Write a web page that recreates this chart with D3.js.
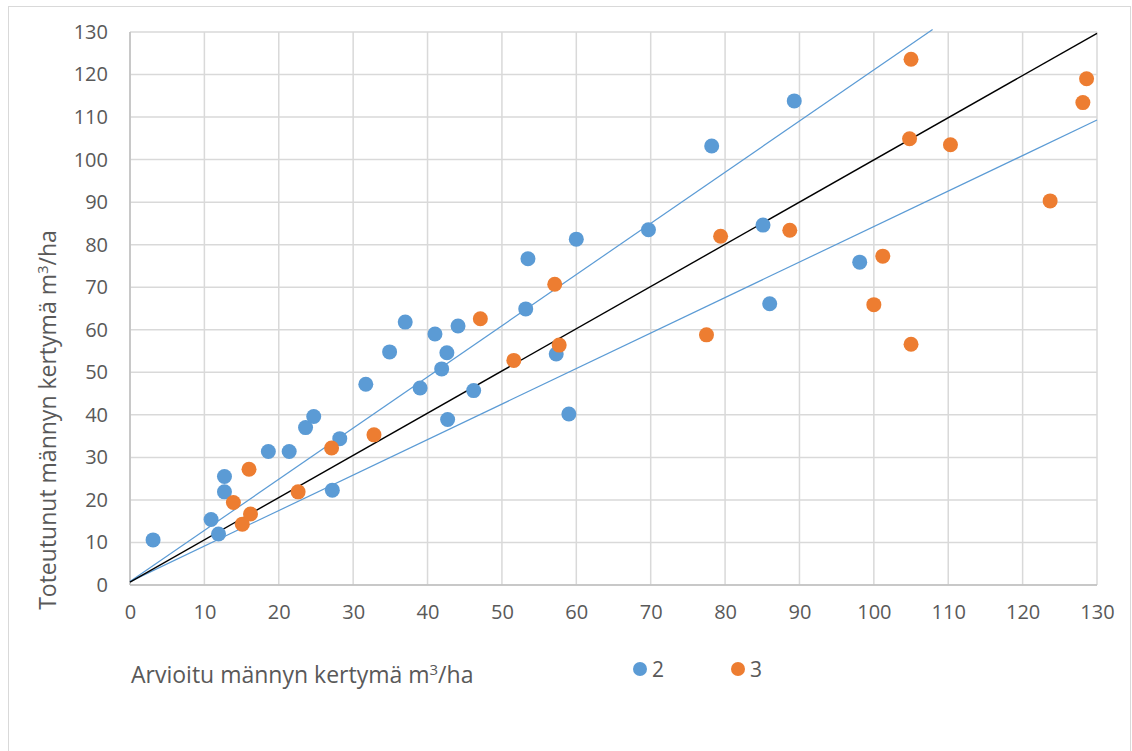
<!DOCTYPE html>
<html>
<head>
<meta charset="utf-8">
<script src="https://cdn.jsdelivr.net/npm/d3@7"></script>
<style>
  body { margin: 0; background: #fff; }
  svg { display: block; }
  text { font-family: "Open Sans", "Noto Sans", sans-serif; fill: #595959; }
</style>
</head>
<body>
<div id="chart"></div>
<script>
// values
var ticks = [0, 10, 20, 30, 40, 50, 60, 70, 80, 90, 100, 110, 120, 130];

// series "2"
var blueX = [3.1, 10.9, 11.9, 12.7, 12.7, 18.6, 21.4, 23.6, 24.7, 27.2, 28.2, 31.7, 34.9, 37.0, 39.0,
             41.0, 41.9, 42.6, 42.7, 44.1, 46.2, 53.2, 53.5, 57.3, 59.0, 60.0, 69.7, 78.2, 85.1, 86.0,
             89.3, 98.1];
var blueY = [10.6, 15.4, 12.0, 21.9, 25.5, 31.4, 31.4, 37.0, 39.6, 22.3, 34.4, 47.2, 54.8, 61.8, 46.3,
             59.0, 50.8, 54.6, 38.9, 60.9, 45.7, 64.9, 76.7, 54.3, 40.2, 81.3, 83.5, 103.2, 84.6, 66.1,
             113.8, 75.9];

// series "3"
var orangeX = [13.9, 15.1, 16.0, 16.2, 22.6, 27.1, 32.8, 47.1, 51.6, 57.1, 57.7, 77.5, 79.4, 88.7,
               100.0, 101.2, 104.8, 105.0, 105.0, 110.3, 123.7, 128.1, 128.6];
var orangeY = [19.4, 14.3, 27.2, 16.7, 21.9, 32.2, 35.3, 62.6, 52.8, 70.7, 56.4, 58.8, 82.0, 83.4,
               65.9, 77.3, 104.9, 123.6, 56.6, 103.5, 90.3, 113.4, 119.0];

// guide lines (end points)
var upperLineX = [0, 107.9], upperLineY = [0.8, 130.6];
var middleLineX = [0, 130], middleLineY = [0.7, 129.7];
var lowerLineX = [0, 130], lowerLineY = [0.8, 109.3];

var width = 1132, height = 751;
var plotLeft = 130, plotRight = 1097, plotTop = 32, plotBottom = 585;

var svg = d3.select("#chart").append("svg")
  .attr("width", width)
  .attr("height", height);

// chart frame
svg.append("rect")
  .attr("x", 8.5).attr("y", 6.5)
  .attr("width", 1122).attr("height", 760)
  .attr("fill", "none")
  .attr("stroke", "#d9d9d9")
  .attr("stroke-width", 1);

var x = d3.scaleLinear().domain([0, 130]).range([plotLeft, plotRight]);
var y = d3.scaleLinear().domain([0, 130]).range([plotBottom, plotTop]);

// gridlines
var grid = svg.append("g").attr("class", "grid");
grid.selectAll("line.v").data(ticks).enter().append("line")
  .attr("class", "v")
  .attr("x1", function(d) { return x(d); })
  .attr("x2", function(d) { return x(d); })
  .attr("y1", y(0)).attr("y2", y(130))
  .attr("stroke", "#d9d9d9").attr("stroke-width", 1.5);
grid.selectAll("line.h").data(ticks).enter().append("line")
  .attr("class", "h")
  .attr("y1", function(d) { return y(d); })
  .attr("y2", function(d) { return y(d); })
  .attr("x1", x(0)).attr("x2", x(130))
  .attr("stroke", "#d9d9d9").attr("stroke-width", 1.5);

// tick labels through d3 axes, lines hidden
var xAxis = svg.append("g")
  .attr("transform", "translate(0," + plotBottom + ")")
  .call(d3.axisBottom(x).tickValues(ticks).tickSize(0).tickPadding(20));
var yAxis = svg.append("g")
  .attr("transform", "translate(" + plotLeft + ",0)")
  .call(d3.axisLeft(y).tickValues(ticks).tickSize(0).tickPadding(22));
[xAxis, yAxis].forEach(function(a) {
  a.select(".domain").remove();
  a.selectAll("text")
    .attr("fill", "#595959")
    .style("font-size", "20px")
    .style("font-family", "'Open Sans', 'Noto Sans', sans-serif");
});

// axis lines
svg.append("line")
  .attr("x1", x(0)).attr("x2", x(0)).attr("y1", y(0)).attr("y2", y(130))
  .attr("stroke", "#bfbfbf").attr("stroke-width", 1.5);
svg.append("line")
  .attr("x1", x(0)).attr("x2", x(130)).attr("y1", y(0)).attr("y2", y(0))
  .attr("stroke", "#bfbfbf").attr("stroke-width", 1.5);

// guide lines
var guides = [
  { xs: upperLineX, ys: upperLineY, color: "#5b9bd5", w: 1.2 },
  { xs: lowerLineX, ys: lowerLineY, color: "#5b9bd5", w: 1.2 },
  { xs: middleLineX, ys: middleLineY, color: "#000000", w: 1.4 }
];
guides.forEach(function(g) {
  svg.append("line")
    .attr("x1", x(g.xs[0])).attr("y1", y(g.ys[0]))
    .attr("x2", x(g.xs[1])).attr("y2", y(g.ys[1]))
    .attr("stroke", g.color)
    .attr("stroke-width", g.w);
});

// points
function drawPoints(xs, ys, color) {
  svg.append("g").selectAll("circle")
    .data(xs.map(function(d, i) { return [d, ys[i]]; }))
    .enter().append("circle")
    .attr("cx", function(d) { return x(d[0]); })
    .attr("cy", function(d) { return y(d[1]); })
    .attr("r", 7.5)
    .attr("fill", color);
}
drawPoints(blueX, blueY, "#5b9bd5");
drawPoints(orangeX, orangeY, "#ed7d31");

// axis titles
var yt = svg.append("text")
  .attr("transform", "translate(56,420) rotate(-90)")
  .attr("text-anchor", "middle")
  .style("font-size", "23px");
yt.append("tspan").text("Toteutunut männyn kertymä m");
yt.append("tspan").attr("dy", -8).style("font-size", "15px").text("3");
yt.append("tspan").attr("dy", 8).text("/ha");

var xt = svg.append("text")
  .attr("x", 131).attr("y", 683)
  .style("font-size", "23px");
xt.append("tspan").text("Arvioitu männyn kertymä m");
xt.append("tspan").attr("dy", -8).style("font-size", "15px").text("3");
xt.append("tspan").attr("dy", 8).text("/ha");

// legend
var legend = [{ label: "2", color: "#5b9bd5", px: 640 }, { label: "3", color: "#ed7d31", px: 738 }];
legend.forEach(function(l) {
  svg.append("circle").attr("cx", l.px).attr("cy", 669).attr("r", 7).attr("fill", l.color);
  svg.append("text").attr("x", l.px + 12).attr("y", 677)
    .style("font-size", "21px").text(l.label);
});
</script>
</body>
</html>
